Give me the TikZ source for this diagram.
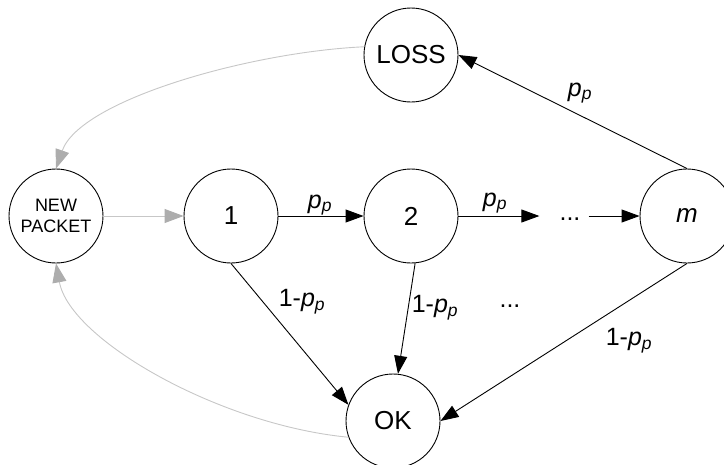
\documentclass[tikz,border=0pt]{standalone}
\usepackage{fontspec}
\setmainfont{Liberation Sans}
\usepackage{xcolor}
\usepackage{tikz}
\usetikzlibrary{arrows.meta}
\tikzstyle{state} = [circle, draw, line width=0.9pt, minimum size=94pt, inner sep=0pt, align=center, font=\fontsize{26}{29}\selectfont]
\tikzstyle{edge} = [line width=0.9pt, -{Triangle[length=18pt,width=13pt]}]
\tikzstyle{back} = [line width=0.9pt, black!22, -{Triangle[length=19pt,width=14pt,color=black!32]}]
\tikzstyle{prob} = [inner sep=0pt, font=\fontsize{25}{29}\selectfont]
\newcommand{\probp}{\textit{p}\textsubscript{\textit{p}}}

\begin{document}
\begin{tikzpicture}[x=1pt,y=-1pt]
  \useasboundingbox (0,0) rectangle (724,464);
  \node [state, font=\fontsize{18}{21}\selectfont](np) at (56,216) {NEW\\PACKET};
  \node [state](s1) at (231,216) {1};
  \node [state](s2) at (411,216) {2};
  \node [state](sm) at (687,216) {\textit{m}};
  \node [state](loss) at (411,55) {LOSS};
  \node [state](ok) at (393,421) {OK};
  \node [prob](dots) at (570,219) {...};
  \node [prob](dotsb) at (510,306) {...};
  % labels
  \node [prob](l12) at (320,205) {\probp};
  \node [prob](l2d) at (495,203) {\probp};
  \node [prob](lml) at (580,93) {\probp};
  \node [prob](l1k) at (302,302) {1-\probp};
  \node [prob](l2k) at (435,308) {1-\probp};
  \node [prob](lmk) at (629,341) {1-\probp};

  \draw [back] (np) -- (s1);
  \draw [edge] (s1) -- (s2);
  \draw [edge, shorten >=20pt] (s2.east) -- (s2.east -| dots.west);
  \draw [edge, shorten <=8pt] (s2.east -| dots.east) -- (sm.west);
  \draw [edge] (sm.north) -- (loss.east);
  \draw [edge] (s1.south) -- (ok.160);
  \draw [edge] (s2.275) -- (ok.84);
  \draw [edge] (sm.south) -- (ok.east);
  \draw [back] (loss.170) .. controls (250,52) and (80,100) .. (np.north);
  \draw [back] (ok.200) .. controls (220,425) and (70,340) .. (np.south);
\end{tikzpicture}
\end{document}
